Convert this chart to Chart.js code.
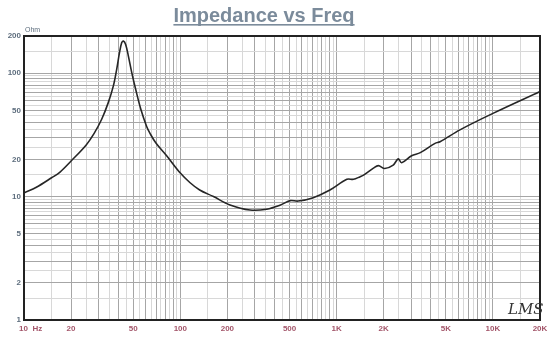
<!DOCTYPE html>
<html>
<head>
<meta charset="utf-8">
<script src="https://cdn.jsdelivr.net/npm/chart.js@4"></script>
<style>
  html, body { margin: 0; padding: 0; background: #fff; }
  #wrap { width: 560px; height: 347px; position: relative; }
</style>
</head>
<body>
<div id="wrap"><canvas id="impChart" width="560" height="347"></canvas></div>
<script>
// impedance sweep, Hz vs Ohm
const freqHz = [10, 12, 15, 17, 20, 25, 28.1, 31.4, 34.6, 37.3, 39.2, 40.8, 42.2, 43.2, 44.7, 46.5, 48.9, 51.8, 55.9, 60.9, 64, 70, 82, 100, 115, 133, 163, 208, 279, 357, 434, 504, 567, 709, 906, 1163, 1283, 1415, 1487, 1720, 1849, 2032, 2300, 2477, 2605, 3016, 3431, 4262, 4588, 6150, 10000, 20000];
const impOhm = [10.7, 11.9, 14.2, 15.8, 19.4, 26.2, 32.5, 42.3, 57.7, 78.8, 108, 146, 177, 182, 171, 138, 101, 74, 51, 37, 32.5, 27, 21.3, 15.5, 13, 11.3, 10, 8.55, 7.78, 7.9, 8.5, 9.27, 9.2, 9.8, 11.3, 13.8, 13.8, 14.5, 14.9, 17, 17.8, 16.9, 18, 20.2, 18.8, 21.4, 22.7, 27, 27.8, 34.7, 47.2, 70.9];

const xLabels = [10, 20, 50, 100, 200, 500, 1000, 2000, 5000, 10000, 20000];
const yLabels = [1, 2, 5, 10, 20, 50, 100, 200];

// grid steps inside each decade
const steps = [1, 1.5, 2, 2.5, 3, 3.5, 4, 4.5, 5, 5.5, 6, 6.5, 7, 7.5, 8, 8.5, 9, 9.5];

function gridValues(min, max) {
  const out = [];
  for (let d = 1; d <= 100000; d *= 10) {
    steps.forEach(s => {
      const v = +(s * d).toPrecision(6);
      if (v >= min && v <= max) out.push(v);
    });
  }
  return out;
}

function isWhole(v) {
  const d = Math.pow(10, Math.floor(Math.log10(v) + 1e-9));
  return Math.abs(v / d - Math.round(v / d)) < 1e-6;
}

function fmtHz(v) {
  if (v === 10) return '      10  Hz';
  if (v >= 1000) return (v / 1000) + 'K';
  return String(v);
}

const frame = {
  id: 'frame',
  afterDraw(chart) {
    const c = chart.ctx, a = chart.chartArea;
    c.save();
    c.strokeStyle = '#222';
    c.lineWidth = 2;
    c.strokeRect(a.left, a.top, a.right - a.left, a.bottom - a.top);

    // title, underlined
    c.fillStyle = '#7b8b9b';
    c.font = 'bold 20px "Liberation Sans", Arial, sans-serif';
    c.textAlign = 'center';
    c.textBaseline = 'alphabetic';
    const t = 'Impedance vs Freq';
    c.fillText(t, 264, 22);
    const w = c.measureText(t).width;
    c.fillRect(264 - w / 2, 24, w, 1.6);

    c.font = '7px "Liberation Sans", Arial, sans-serif';
    c.fillStyle = '#5d6d7d';
    c.textAlign = 'left';
    c.fillText('Ohm', 25, 32);

    c.font = 'italic 15px "DejaVu Serif", serif';
    c.fillStyle = '#333';
    c.fillText('LMS', 508, 314);
    c.restore();
  }
};

new Chart(document.getElementById('impChart'), {
  type: 'line',
  data: {
    datasets: [{
      data: freqHz.map((f, i) => ({ x: f, y: impOhm[i] })),
      borderColor: '#262626',
      borderWidth: 1.6,
      pointRadius: 0,
      fill: false,
      tension: 0.35
    }]
  },
  options: {
    responsive: false,
    animation: false,
    layout: { padding: { left: 0, right: 20, top: 36, bottom: 0 } },
    plugins: { legend: { display: false }, tooltip: { enabled: false } },
    scales: {
      x: {
        type: 'logarithmic',
        min: 10,
        max: 20000,
        afterBuildTicks: s => { s.ticks = gridValues(10, 20000).map(v => ({ value: v })); },
        afterFit: s => { s.height = 27; },
        border: { display: false },
        grid: {
          drawTicks: false,
          color: c => isWhole(c.tick.value) ? '#a6a6a6' : '#d8d8d8',
          lineWidth: 1
        },
        ticks: {
          autoSkip: false,
          maxRotation: 0,
          padding: 4,
          color: '#a3566a',
          font: { family: '"Liberation Sans", Arial, sans-serif', size: 8, weight: 'bold' },
          callback: v => xLabels.includes(v) ? fmtHz(v) : ''
        }
      },
      y: {
        type: 'logarithmic',
        min: 1,
        max: 200,
        afterBuildTicks: s => { s.ticks = gridValues(1, 200).map(v => ({ value: v })); },
        afterFit: s => { s.width = 24; },
        border: { display: false },
        grid: {
          drawTicks: false,
          color: c => isWhole(c.tick.value) ? '#a6a6a6' : '#d8d8d8',
          lineWidth: 1
        },
        ticks: {
          autoSkip: false,
          padding: 3,
          color: '#5d6d7d',
          font: { family: '"Liberation Sans", Arial, sans-serif', size: 8, weight: 'bold' },
          callback: v => yLabels.includes(v) ? String(v) : ''
        }
      }
    }
  },
  plugins: [frame]
});
</script>
</body>
</html>
